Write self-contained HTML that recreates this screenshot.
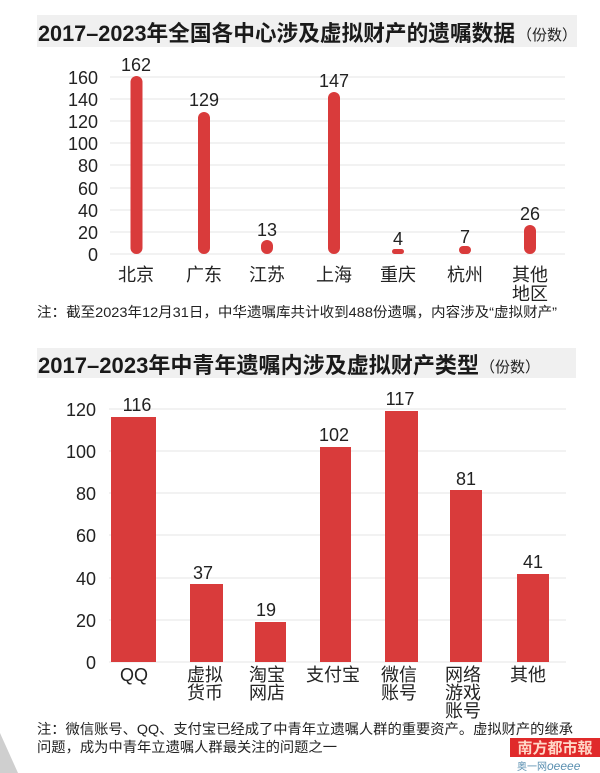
<!DOCTYPE html>
<html><head><meta charset="utf-8"><style>
html,body{margin:0;padding:0;background:#fff;}
svg{display:block;font-family:"Liberation Sans","Noto Sans CJK SC",sans-serif;}
</style></head><body>
<svg width="600" height="773" viewBox="0 0 600 773" xmlns="http://www.w3.org/2000/svg">
<rect x="37" y="15" width="540" height="32" fill="#f0f0f0"/>
<text x="38" y="41" font-size="22" font-weight="bold" fill="#1a1a1a" textLength="477" lengthAdjust="spacingAndGlyphs">2017–2023年全国各中心涉及虚拟财产的遗嘱数据</text>
<text x="517" y="40" font-size="15" fill="#222" textLength="60" lengthAdjust="spacingAndGlyphs">（份数）</text>
<g stroke="#e6e6e6" stroke-width="1">
<line x1="110" x2="565" y1="77" y2="77"/><line x1="110" x2="565" y1="99" y2="99"/><line x1="110" x2="565" y1="121" y2="121"/><line x1="110" x2="565" y1="143" y2="143"/><line x1="110" x2="565" y1="165" y2="165"/><line x1="110" x2="565" y1="188" y2="188"/><line x1="110" x2="565" y1="210" y2="210"/><line x1="110" x2="565" y1="232" y2="232"/><line x1="110" x2="565" y1="254" y2="254"/>
</g>
<g font-size="18" fill="#222" text-anchor="end">
<text x="98" y="84">160</text><text x="98" y="106">140</text><text x="98" y="128">120</text><text x="98" y="150">100</text><text x="98" y="172">80</text><text x="98" y="195">60</text><text x="98" y="217">40</text><text x="98" y="239">20</text><text x="98" y="261">0</text>
</g>
<g fill="#d93b3b">
<rect x="130.5" y="76" width="12" height="178" rx="6"/>
<rect x="198" y="112" width="12" height="142" rx="6"/>
<rect x="261" y="240" width="12" height="14" rx="6"/>
<rect x="328" y="92" width="12" height="162" rx="6"/>
<rect x="392" y="249" width="12" height="5" rx="2.5"/>
<rect x="459" y="246" width="12" height="8" rx="4"/>
<rect x="524" y="225" width="12" height="29" rx="6"/>
</g>
<g font-size="18" fill="#222" text-anchor="middle">
<text x="136" y="71">162</text><text x="204" y="106">129</text><text x="267" y="236">13</text><text x="334" y="87">147</text><text x="398" y="245">4</text><text x="465" y="243">7</text><text x="530" y="220">26</text>
</g>
<g font-size="18" fill="#222" text-anchor="middle">
<text x="136" y="281">北京</text><text x="204" y="281">广东</text><text x="267" y="281">江苏</text><text x="334" y="281">上海</text><text x="398" y="281">重庆</text><text x="465" y="281">杭州</text><text x="530" y="281">其他</text><text x="530" y="300">地区</text>
</g>
<text x="37" y="317" font-size="14" fill="#222" textLength="520" lengthAdjust="spacingAndGlyphs">注：截至2023年12月31日，中华遗嘱库共计收到488份遗嘱，内容涉及“虚拟财产”</text>

<rect x="37" y="348" width="539" height="30" fill="#f0f0f0"/>
<text x="38" y="373" font-size="22" font-weight="bold" fill="#1a1a1a" textLength="441" lengthAdjust="spacingAndGlyphs">2017–2023年中青年遗嘱内涉及虚拟财产类型</text>
<text x="480" y="372" font-size="15" fill="#222" textLength="60" lengthAdjust="spacingAndGlyphs">（份数）</text>
<g stroke="#e6e6e6" stroke-width="1">
<line x1="109" x2="566" y1="409" y2="409"/><line x1="109" x2="566" y1="451" y2="451"/><line x1="109" x2="566" y1="493" y2="493"/><line x1="109" x2="566" y1="535" y2="535"/><line x1="109" x2="566" y1="578" y2="578"/><line x1="109" x2="566" y1="620" y2="620"/><line x1="109" x2="566" y1="662" y2="662"/>
</g>
<g font-size="18" fill="#222" text-anchor="end">
<text x="96" y="416">120</text><text x="96" y="458">100</text><text x="96" y="500">80</text><text x="96" y="542">60</text><text x="96" y="585">40</text><text x="96" y="627">20</text><text x="96" y="669">0</text>
</g>
<g fill="#d93b3b">
<rect x="111" y="417" width="45" height="245"/>
<rect x="190" y="584" width="33" height="78"/>
<rect x="255" y="622" width="31" height="40"/>
<rect x="320" y="447" width="31" height="215"/>
<rect x="385" y="411" width="33" height="251"/>
<rect x="450" y="490" width="32" height="172"/>
<rect x="517" y="574" width="32" height="88"/>
</g>
<g font-size="18" fill="#222" text-anchor="middle">
<text x="137" y="411">116</text><text x="203" y="579">37</text><text x="266" y="616">19</text><text x="334" y="441">102</text><text x="400" y="405">117</text><text x="466" y="485">81</text><text x="533" y="568">41</text>
</g>
<g font-size="18" fill="#222" text-anchor="middle">
<text x="134" y="681">QQ</text>
<text x="205" y="681">虚拟</text><text x="205" y="699">货币</text>
<text x="267" y="681">淘宝</text><text x="267" y="699">网店</text>
<text x="333" y="681">支付宝</text>
<text x="399" y="681">微信</text><text x="399" y="699">账号</text>
<text x="463" y="681">网络</text><text x="463" y="699">游戏</text><text x="463" y="717">账号</text>
<text x="528" y="681">其他</text>
</g>
<text x="37" y="734" font-size="14" fill="#222" textLength="536" lengthAdjust="spacingAndGlyphs">注：微信账号、QQ、支付宝已经成了中青年立遗嘱人群的重要资产。虚拟财产的继承</text>
<text x="37" y="752" font-size="14" fill="#222" textLength="300" lengthAdjust="spacingAndGlyphs">问题，成为中青年立遗嘱人群最关注的问题之一</text>
<rect x="510" y="738" width="90" height="19" fill="#e02a2a"/>
<text x="555" y="753" font-size="15" font-weight="bold" fill="#ffd8c8" text-anchor="middle">南方都市報</text>
<text x="517" y="770" font-size="10" fill="#5a8fb0">奥一网<tspan font-style="italic" font-size="12">oeeee</tspan></text>
<polygon points="0,733 0,773 18,773" fill="#cfcfcf"/>
</svg>
</body></html>
